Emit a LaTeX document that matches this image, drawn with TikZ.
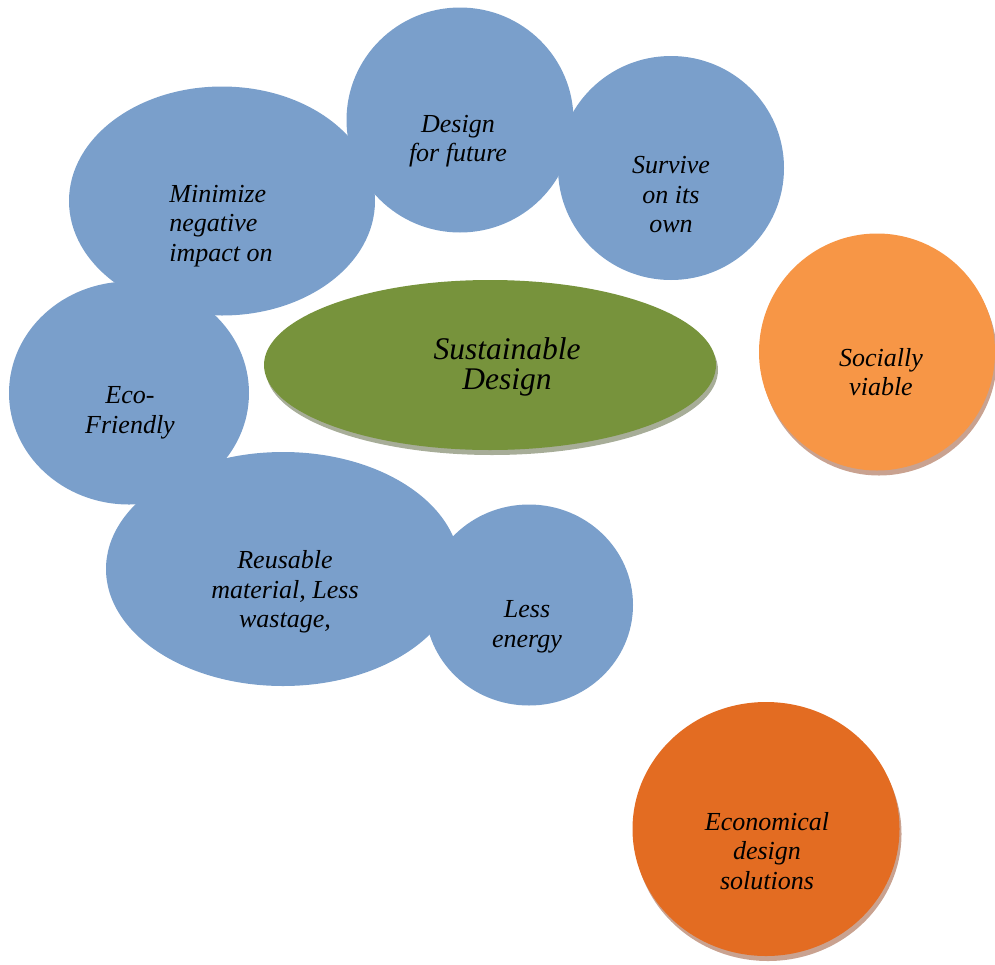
\documentclass[tikz,border=0pt]{standalone}
\usepackage{fontspec}
\setmainfont{Liberation Serif}
\usepackage{tikz}
\usetikzlibrary{shapes.geometric,shadows}
\definecolor{bubbleblue}{HTML}{7A9FCB}
\definecolor{hubgreen}{HTML}{77933C}
\definecolor{hubshadow}{HTML}{A7AD98}
\definecolor{socialorange}{HTML}{F79646}
\definecolor{econorange}{HTML}{E36C22}
\definecolor{orangeshadow}{HTML}{C9A290}

\begin{document}
\begin{tikzpicture}[x=1pt,y=-1pt,
  bubble/.style={ellipse,inner sep=0,fill=bubbleblue},
  castshadow/.style={drop shadow={shadow xshift=2pt,shadow yshift=-5pt,fill=#1,opacity=1}},
  lbl/.style={font=\fontsize{26}{29.5}\selectfont\itshape,align=center}]
  \useasboundingbox (0,0) rectangle (995,964);
  %\draw[help lines] (0,0) grid[step=100] (995,964);
  \node[bubble,minimum width=306,minimum height=229] (minimize) at (222,201) {};
  \node[bubble,minimum width=227,minimum height=225] (future) at (460,120) {};
  \node[bubble,minimum width=226,minimum height=224] (survive) at (671,168) {};
  \node[bubble,minimum width=240,minimum height=223] (eco) at (129,393) {};
  \node[bubble,minimum width=354,minimum height=234] (reuse) at (283,569) {};
  \node[bubble,minimum width=208,minimum height=201] (energy) at (529,605) {};
  \node[ellipse,inner sep=0,fill=hubgreen,castshadow=hubshadow,
    minimum width=452,minimum height=170] (hub) at (490,365) {};
  \node[ellipse,inner sep=0,fill=socialorange,castshadow=orangeshadow,
    minimum width=236,minimum height=237] (social) at (877,352) {};
  \node[ellipse,inner sep=0,fill=econorange,castshadow=orangeshadow,
    minimum width=267,minimum height=254] (econ) at (766,829) {};
  % texts
  \node[lbl,align=left] (minimizetxt) at (221,226) {Minimize\\negative\\impact on};
  \node[lbl] (futuretxt) at (458,141) {Design\\for future};
  \node[lbl] (survivetxt) at (671,195) {Survive\\on its\\own};
  \node[lbl] (ecotxt) at (130,413) {Eco-\\Friendly};
  \node[lbl] (reusetxt) at (285,592) {Reusable\\material, Less\\wastage,};
  \node[lbl] (energytxt) at (527,627) {Less\\energy};
  \node[lbl,font=\fontsize{31.5}{30}\selectfont\itshape] (hubtxt) at (507,367) {Sustainable\\Design};
  \node[lbl] (socialtxt) at (881,372) {Socially\\viable};
  \node[lbl] (econtxt) at (767,851) {Economical\\design\\solutions};
\end{tikzpicture}
\end{document}
